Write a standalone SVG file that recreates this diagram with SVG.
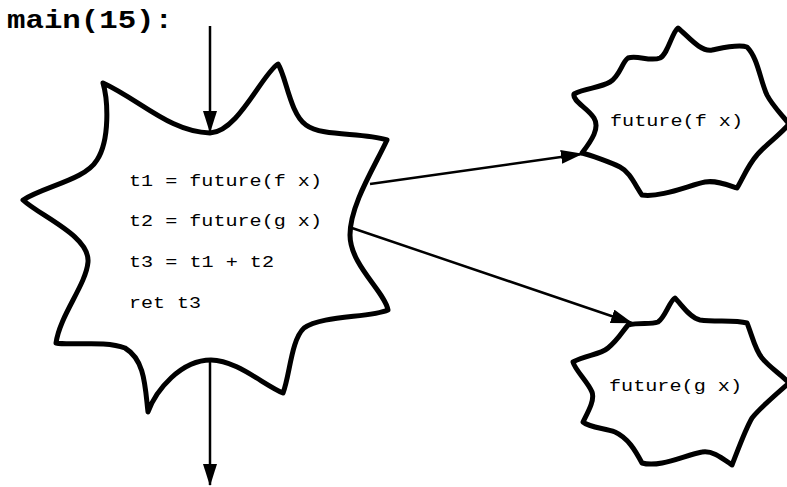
<svg xmlns="http://www.w3.org/2000/svg" width="787" height="487" viewBox="0 0 787 487">
  <style>
    .blob { fill: #ffffff; stroke: #000000; stroke-width: 5; stroke-linejoin: round; stroke-linecap: round; }
    .code { font-family: "Liberation Mono", "Courier New", monospace; font-size: 17px; fill: #000000; }
    .title { font-family: "Liberation Mono", "Courier New", monospace; font-size: 25px; font-weight: bold; fill: #000000; }
    .conn { stroke: #000000; stroke-width: 2.5; fill: none; marker-end: url(#arrow); }
  </style>
  <defs>
    <marker id="arrow" markerUnits="userSpaceOnUse" viewBox="0 0 22 14" markerWidth="22" markerHeight="14" refX="21" refY="7" orient="auto">
      <path d="M0,0 L22,7 L0,14 Z" fill="#000000"/>
    </marker>
  </defs>
  <rect width="787" height="487" fill="#ffffff"/>

  <text class="title" x="7" y="28" textLength="166" lengthAdjust="spacingAndGlyphs">main(15):</text>

  <g id="main-node">
    <path class="blob" d="M103,83 C140,100 170,132 210,133 C238,132 262,74 278,64 C286,76 290,114 306,125 C322,137 362,132 387,140 C375,166 350,205 350,235 C350,265 385,292 388,310 C370,318 322,315 304,328 C291,340 290,375 283,393 C264,385 236,360 211,360 C181,360 156,390 148,412 C145,386 145,360 125,348 C105,340 70,346 56,343 C60,315 86,285 88,262 C90,236 40,216 23,200 C45,186 85,180 97,160 C110,140 108,100 103,83 Z"/>
    <text class="code" x="129" y="186" textLength="193" lengthAdjust="spacingAndGlyphs">t1 = future(f x)</text>
    <text class="code" x="129" y="226" textLength="193" lengthAdjust="spacingAndGlyphs">t2 = future(g x)</text>
    <text class="code" x="129" y="267" textLength="145" lengthAdjust="spacingAndGlyphs">t3 = t1 + t2</text>
    <text class="code" x="129" y="308" textLength="72" lengthAdjust="spacingAndGlyphs">ret t3</text>
  </g>

  <g id="future-f">
    <path class="blob" d="M582,153 C592,140 600,128 594,118 C588,108 572,101 574,94 C585,88 600,88 610,82 C620,76 622,62 628,58 C638,55 650,62 660,58 C668,54 672,32 678,28 C688,36 700,52 712,50 C722,48 738,44 747,47 C758,58 760,80 767,95 C772,105 782,115 789,124 C780,135 765,145 757,155 C748,165 742,180 737,188 C728,185 716,180 705,182 C690,185 660,198 642,195 C635,185 630,172 620,167 C610,162 590,155 582,153 Z"/>
    <text class="code" x="610" y="126" textLength="133" lengthAdjust="spacingAndGlyphs">future(f x)</text>
  </g>

  <g id="future-g">
    <path class="blob" d="M628,325 C640,322 650,325 658,322 C665,318 670,300 675,298 C682,305 690,318 700,320 C715,322 735,320 747,323 C752,335 755,350 762,358 C770,368 782,375 789,383 C775,395 760,408 752,418 C745,430 738,450 732,465 C722,458 712,450 702,452 C685,455 660,468 642,463 C635,450 628,438 615,432 C605,428 590,428 583,422 C588,412 595,400 592,392 C588,382 575,370 573,362 C585,355 600,355 608,348 C618,340 622,332 628,325 Z"/>
    <text class="code" x="609" y="391" textLength="133" lengthAdjust="spacingAndGlyphs">future(g x)</text>
  </g>

  <g id="connectors">
    <line class="conn" x1="210" y1="26" x2="210" y2="132"/>
    <line class="conn" x1="210" y1="360" x2="210" y2="485"/>
    <line class="conn" x1="370" y1="184" x2="582" y2="154"/>
    <line class="conn" x1="352" y1="228" x2="632" y2="323"/>
  </g>
</svg>
